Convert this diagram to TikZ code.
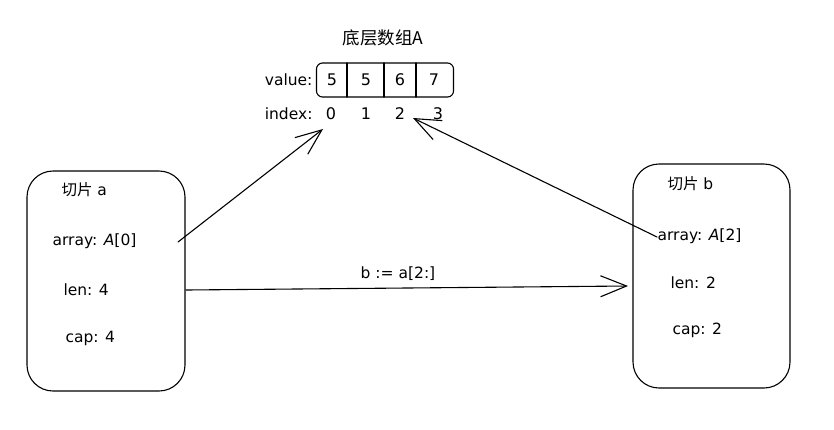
\documentclass[tikz,border=0pt]{standalone}
\usepackage{fontspec}
\setmainfont{DejaVu Sans}
\newfontfamily\cjk{Noto Sans CJK SC}
\usetikzlibrary{arrows.meta}
\begin{document}
\begin{tikzpicture}[x=1pt,y=-1pt, line width=1.1pt, line cap=round,
  txt/.style={font=\fontsize{15.5}{18}\selectfont, inner sep=0pt, anchor=west},
  dig/.style={font=\fontsize{16}{18}\selectfont, inner sep=0pt},
  slicebox/.style={draw, rounded corners=26pt},
  arr/.style={-{Straight Barb[length=26pt,width=21pt,line width=1.1pt]}}]
\path[use as bounding box] (0,0) rectangle (834,429);
% array A
\node[font=\cjk\fontsize{17.5}{20}\selectfont, inner sep=0pt] (title) at (383,38) {底层数组\textit{A}};
\node[draw, rounded corners=6pt, minimum width=137pt, minimum height=34pt, inner sep=0pt] (vbox) at (385,80) {};
\draw (347,63) -- (347,97);
\draw (384,63) -- (384,97);
\draw (416,63) -- (416,97);
\node[txt, anchor=east] (vlab) at (313,80) {value:};
\node[dig] (v0) at (332,80) {5};
\node[dig] (v1) at (366,80) {5};
\node[dig] (v2) at (400,80) {6};
\node[dig] (v3) at (434,80) {7};
\node[txt, anchor=east] (ilab) at (313,114) {index:};
\node[dig] (i0) at (331,114) {0};
\node[dig] (i1) at (366,114) {1};
\node[dig] (i2) at (400,114) {2};
\node[dig] (i3) at (438,114) {3};
% slice a
\draw[slicebox] (27,171) rectangle (185,391);
\node[txt] (an) at (61,190) {{\cjk 切片} a};
\node[txt] (aarr) at (52,241) {array: \textit{A}[0]};
\node[txt] (alen) at (63,290) {len: 4};
\node[txt] (acap) at (65,338) {cap: 4};
% slice b
\draw[slicebox] (633,164) rectangle (790,388);
\node[txt] (bn) at (667,184) {{\cjk 切片} b};
\node[txt] (barr) at (657,236) {array: \textit{A}[2]};
\node[txt] (blen) at (670,283) {len: 2};
\node[txt] (bcap) at (672,330) {cap: 2};
% connectors
\coordinate (a1) at (178,242);
\coordinate (t1) at (323,129);
\coordinate (b1) at (657,237);
\coordinate (t2) at (413,118);
\coordinate (a3) at (186,290);
\coordinate (t3) at (628,286);
\draw[arr] (a1) -- (t1);
\draw[arr] (b1) -- (t2);
\draw[arr] (a3) -- (t3);
\node[dig, font=\fontsize{15.5}{18}\selectfont] (lab) at (398,274) {b := a[2:]};
\end{tikzpicture}
\end{document}
